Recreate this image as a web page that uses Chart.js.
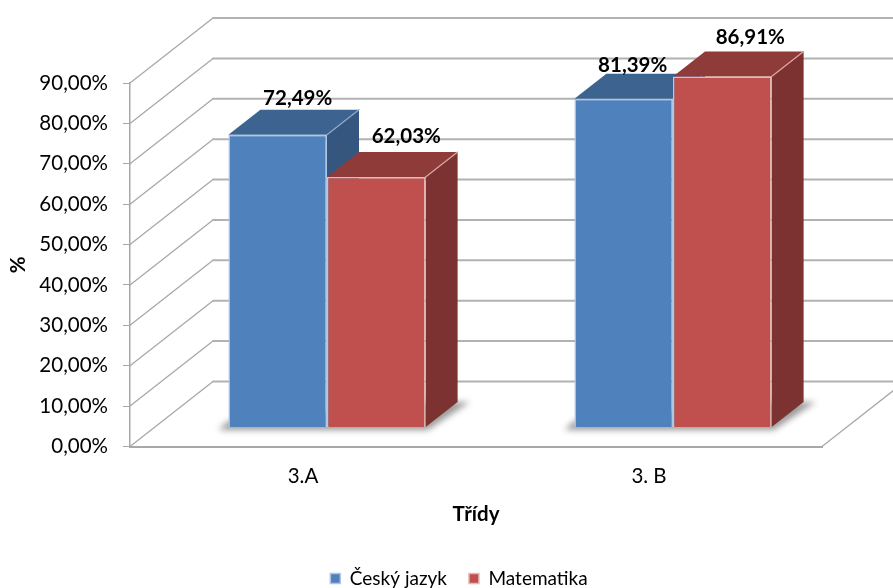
<!DOCTYPE html>
<html>
<head>
<meta charset="utf-8">
<title>Třídy</title>
<script src="https://cdn.jsdelivr.net/npm/chart.js@4"></script>
<style>
  html, body { margin:0; padding:0; background:#fff; overflow:hidden; }
  canvas { display:block; }
</style>
</head>
<body>
<canvas id="chart" width="893" height="588"></canvas>
<script>
const categories  = ['3.A', '3. B'];
const ceskyJazyk  = [72.49, 81.39];
const matematika  = [62.03, 86.91];
const yTickLabels = ['0,00%','10,00%','20,00%','30,00%','40,00%','50,00%','60,00%','70,00%','80,00%','90,00%'];

const FONT = 'Lato, "Open Sans", sans-serif';
const FONT_SIZE = 20.5;

// 3D look: wall depth, bar shift from the front plane, bar depth
const WALL = { dx:83, dy:-65 };
const SHIFT = { dx:24, dy:-19 };
const DEPTH = { dx:32, dy:-25 };

const faces = [
  { top:'#3d6491', side:'#34567f', edge:'#8fa9cb' },
  { top:'#8f3b39', side:'#7b3230', edge:'#d9a7a5' }
];
// label position relative to the top centre of the front face, per dataset and category
const labelOffsets = [
  [{ x:20, y:-36 }, { x:9, y:-33 }],
  [{ x:30, y:-41 }, { x:28, y:-39 }]
];

function poly(ctx, pts, fill, stroke) {
  ctx.beginPath();
  pts.forEach((p, i) => i ? ctx.lineTo(p[0], p[1]) : ctx.moveTo(p[0], p[1]));
  ctx.closePath();
  if (fill) { ctx.fillStyle = fill; ctx.fill(); }
  if (stroke) { ctx.strokeStyle = stroke; ctx.lineWidth = 1.2; ctx.stroke(); }
}

const box3d = {
  id:'box3d',
  afterLayout(chart) {
    // legend sits centred under the whole picture, not under the plot box
    chart.legend.left += 96;
  },
  beforeDatasetsDraw(chart) {
    const { ctx, chartArea:a, scales:{ y } } = chart;
    ctx.save();
    // walls and floor
    ctx.lineCap = 'round';
    y.ticks.forEach(t => {
      const py = y.getPixelForValue(t.value);
      ctx.strokeStyle = '#a8a8a8';
      ctx.lineWidth = 1.3;
      ctx.beginPath();
      ctx.moveTo(a.left, py);
      ctx.lineTo(a.left + WALL.dx, py + WALL.dy);
      ctx.stroke();
      ctx.strokeStyle = '#b2b2b2';
      ctx.lineWidth = 2;
      ctx.beginPath();
      ctx.moveTo(a.left + WALL.dx, py + WALL.dy);
      ctx.lineTo(chart.width, py + WALL.dy);
      ctx.stroke();
    });
    ctx.strokeStyle = '#a8a8a8';
    ctx.lineWidth = 1.3;
    ctx.beginPath();
    ctx.moveTo(a.right, a.bottom);
    ctx.lineTo(a.right + WALL.dx, a.bottom + WALL.dy);
    ctx.stroke();

    // floor shadow, one per category group
    categories.forEach((c, j) => {
      const b0 = chart.getDatasetMeta(0).data[j];
      const b1 = chart.getDatasetMeta(1).data[j];
      const l = b0.x - b0.width / 2 + SHIFT.dx;
      const r = b1.x + b1.width / 2 + SHIFT.dx;
      const base = b0.base + SHIFT.dy;
      ctx.save();
      ctx.filter = 'blur(3px)';
      poly(ctx, [[l - 10, base + 3], [r + 2, base + 3], [r + DEPTH.dx + 12, base + DEPTH.dy], [r, base + DEPTH.dy], [l, base - 6]], '#9a9a9a');
      ctx.restore();
    });

    // top and side faces, blue first so the red ones overlap it
    categories.forEach((c, j) => {
      chart.data.datasets.forEach((ds, i) => {
        const b = chart.getDatasetMeta(i).data[j];
        const l = b.x - b.width / 2 + SHIFT.dx;
        const r = b.x + b.width / 2 + SHIFT.dx;
        const t = b.y + SHIFT.dy;
        const f = b.base + SHIFT.dy;
        poly(ctx, [[r, t], [r + DEPTH.dx, t + DEPTH.dy], [r + DEPTH.dx, f + DEPTH.dy], [r, f]], faces[i].side);
        poly(ctx, [[l, t], [l + DEPTH.dx, t + DEPTH.dy], [r + DEPTH.dx, t + DEPTH.dy], [r, t]], faces[i].top);
        ctx.strokeStyle = faces[i].edge;
        ctx.lineWidth = 1.2;
        ctx.beginPath();
        ctx.moveTo(r, t);
        ctx.lineTo(r + DEPTH.dx, t + DEPTH.dy);
        ctx.stroke();
      });
    });
    ctx.restore();

    // front faces are the real bars, moved back into the depth of the box
    ctx.save();
    ctx.translate(SHIFT.dx, SHIFT.dy);
  },
  afterDatasetsDraw(chart) {
    const { ctx } = chart;
    ctx.restore();
    ctx.save();
    ctx.font = `bold ${FONT_SIZE}px ${FONT}`;
    ctx.fillStyle = '#000';
    ctx.textAlign = 'center';
    ctx.textBaseline = 'middle';
    chart.data.datasets.forEach((ds, i) => {
      chart.getDatasetMeta(i).data.forEach((b, j) => {
        const off = labelOffsets[i][j];
        const txt = ds.data[j].toFixed(2).replace('.', ',') + '%';
        ctx.fillText(txt, b.x + SHIFT.dx + off.x, b.y + SHIFT.dy + off.y);
      });
    });
    ctx.restore();
  }
};

new Chart(document.getElementById('chart'), {
  type:'bar',
  data:{
    labels:categories,
    datasets:[
      { label:'Český jazyk', data:ceskyJazyk, backgroundColor:'#4f81bd', borderColor:'#b0c5e0', borderWidth:1.5, clip:false },
      { label:'Matematika',  data:matematika, backgroundColor:'#c0504d', borderColor:'#e4b8b6', borderWidth:1.5, clip:false }
    ]
  },
  options:{
    responsive:false,
    animation:false,
    categoryPercentage:0.57,
    barPercentage:1,
    layout:{ padding:{ left:0, right:71, top:83, bottom:-10 } },
    plugins:{
      tooltip:{ enabled:false },
      legend:{
        position:'bottom',
        labels:{ boxWidth:10, boxHeight:10, padding:22, color:'#000', font:{ family:FONT, size:19 } }
      }
    },
    scales:{
      x:{
        grid:{ display:false },
        border:{ color:'#a8a8a8', width:2 },
        ticks:{ color:'#000', padding:10, font:{ family:FONT, size:FONT_SIZE }, maxRotation:0 },
        title:{ display:true, text:'Třídy', color:'#000', font:{ family:FONT, size:FONT_SIZE, weight:'bold' }, padding:{ top:10, bottom:20.5 } },
        afterFit(s) { s.height = 100.5; }
      },
      y:{
        min:0, max:90,
        grid:{ drawOnChartArea:false, color:'#a8a8a8', tickLength:7 },
        border:{ color:'#a8a8a8', width:1.5 },
        ticks:{ stepSize:10, color:'#000', padding:15, font:{ family:FONT, size:FONT_SIZE },
          callback(v, i) { return yTickLabels[i]; } },
        title:{ display:true, text:'%', color:'#000', font:{ family:FONT, size:FONT_SIZE, weight:'bold' }, padding:{ top:6, bottom:0 } },
        afterFit(s) { s.width = 130; }
      }
    }
  },
  plugins:[box3d]
});
</script>
</body>
</html>
